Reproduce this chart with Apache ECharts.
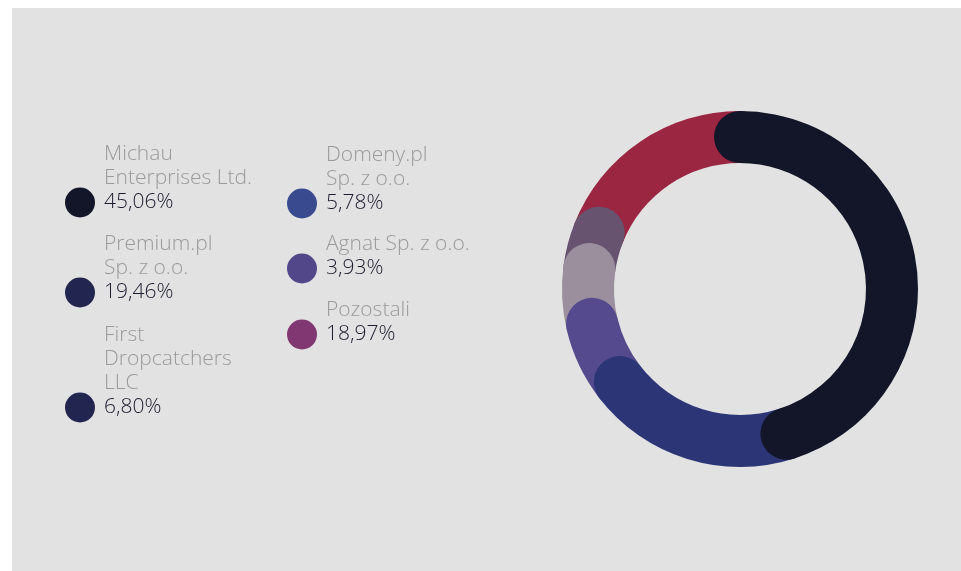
<!DOCTYPE html>
<html>
<head>
<meta charset="utf-8">
<script src="https://cdn.jsdelivr.net/npm/echarts@6/dist/echarts.min.js"></script>
<style>
  html, body { margin: 0; padding: 0; background: #ffffff; }
  .panel { position: absolute; left: 12px; top: 8px; width: 949px; height: 563px; background: #e2e2e2; }
  #chart { position: absolute; left: 0; top: 0; width: 961px; height: 571px; }
</style>
</head>
<body>
<div class="panel"></div>
<div id="chart"></div>
<script>
// udzialy w rynku
const names = ['Michau Enterprises Ltd.', 'Premium.pl Sp. z o.o.', 'First Dropcatchers LLC', 'Domeny.pl Sp. z o.o.', 'Agnat Sp. z o.o.', 'Pozostali']
const nameLines = [['Michau', 'Enterprises Ltd.'], ['Premium.pl', 'Sp. z o.o.'], ['First', 'Dropcatchers', 'LLC'], ['Domeny.pl', 'Sp. z o.o.'], ['Agnat Sp. z o.o.'], ['Pozostali']]
const shares = [45.06, 19.46, 6.80, 5.78, 3.93, 18.97]
const ringColors = ['#131529', '#2c3677', '#544a8d', '#9b8f9d', '#67536f', '#9b2642']
const legendColors = ['#131529', '#22254f', '#22254f', '#394a8f', '#524789', '#813872']

const LH = 24
// pozycje legendy (srodek kolka)
const legendPos = [[65, 204], [65, 294], [65, 409], [287, 205], [287, 270], [287, 336]]

let myChart = echarts.init(document.getElementById('chart'))

const legends = names.map(function (n, i) {
  const lines = nameLines[i].length + 1
  return {
    left: legendPos[i][0],
    top: legendPos[i][1] - (2 * lines - 1) * LH / 2,
    padding: 0,
    orient: 'vertical',
    itemWidth: 30,
    itemHeight: 30,
    selectedMode: false,
    data: [{
      name: n,
      icon: 'circle',
      itemStyle: { color: legendColors[i] },
      textStyle: { padding: [0, 0, (lines - 1) * LH, 4] }
    }],
    formatter: function () {
      const parts = nameLines[i].map(function (l) { return '{n|' + l + '}' })
      parts.push('{v|' + shares[i].toFixed(2).replace('.', ',') + '%}')
      return parts.join('\n')
    },
    textStyle: {
      rich: {
        n: { fontFamily: 'Open Sans', fontWeight: 300, fontSize: 21, lineHeight: LH, color: '#9a9a9a' },
        v: { fontFamily: 'Open Sans', fontWeight: 300, fontSize: 21, lineHeight: LH, color: '#1d1d30' }
      }
    }
  }
})

myChart.setOption({
  animation: false,
  legend: legends,
  polar: {
    center: [740, 289],
    radius: [126, 178]
  },
  angleAxis: {
    type: 'value',
    min: 0,
    max: 100,
    startAngle: 90,
    clockwise: true,
    show: false
  },
  radiusAxis: {
    type: 'category',
    data: ['udzial'],
    show: false
  },
  series: names.map(function (n, i) {
    return {
      name: n,
      type: 'bar',
      coordinateSystem: 'polar',
      stack: 'ring',
      roundCap: true,
      barCategoryGap: '0%',
      z: 10 - i,
      data: [shares[i]],
      itemStyle: { color: ringColors[i] },
      emphasis: { disabled: true }
    }
  })
})
</script>
</body>
</html>
